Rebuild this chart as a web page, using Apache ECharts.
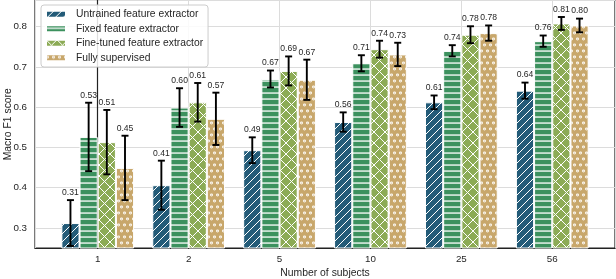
<!DOCTYPE html>
<html>
<head>
<meta charset="utf-8">
<script src="https://cdn.jsdelivr.net/npm/echarts@6/dist/echarts.min.js"></script>
<style>
html,body{margin:0;padding:0;background:#fff;overflow:hidden;width:100%;height:100%;}
#chart{position:absolute;left:0;top:0;width:616px;height:279px;}
</style>
</head>
<body>
<div id="chart"></div>
<script>
// ---- data ----
const categories = ['1', '2', '5', '10', '25', '56'];
const seriesNames = ['Untrained feature extractor', 'Fixed feature extractor', 'Fine-tuned feature extractor', 'Fully supervised'];
const untrainedMean = [0.312, 0.406, 0.493, 0.563, 0.612, 0.641];
const untrainedErr  = [0.057, 0.061, 0.032, 0.024, 0.017, 0.020];
const fixedMean     = [0.526, 0.599, 0.670, 0.709, 0.740, 0.764];
const fixedErr      = [0.085, 0.048, 0.021, 0.020, 0.014, 0.014];
const finetunedMean = [0.513, 0.612, 0.690, 0.744, 0.780, 0.808];
const finetunedErr  = [0.080, 0.048, 0.036, 0.021, 0.021, 0.016];
const supervisedMean= [0.449, 0.571, 0.668, 0.731, 0.784, 0.803];
const supervisedErr = [0.080, 0.065, 0.050, 0.029, 0.019, 0.017];
const yTicks = [0.3, 0.4, 0.5, 0.6, 0.7, 0.8];

const means = [untrainedMean, fixedMean, finetunedMean, supervisedMean];
const errs = [untrainedErr, fixedErr, finetunedErr, supervisedErr];
const colors = ['#235b78', '#3c915e', '#8cab55', '#c8a76b'];
const FONT = '"Liberation Sans", Arial, sans-serif';
const TXT = '#262626';

function makePattern(kind, color) {
  const c = document.createElement('canvas');
  let w, h;
  if (kind === 'diag') { w = 8; h = 8; }
  else if (kind === 'hline') { w = 6; h = 6; }
  else if (kind === 'cross') { w = 11; h = 11; }
  else { w = 6; h = 12; }
  c.width = w; c.height = h;
  const g = c.getContext('2d');
  g.fillStyle = color; g.fillRect(0, 0, w, h);
  g.strokeStyle = '#ffffff'; g.fillStyle = '#ffffff';
  g.lineWidth = 1;
  if (kind === 'diag') {
    g.beginPath();
    g.moveTo(-1, h + 1); g.lineTo(w + 1, -1);
    g.moveTo(-1, 1); g.lineTo(1, -1);
    g.moveTo(w - 1, h + 1); g.lineTo(w + 1, h - 1);
    g.stroke();
  } else if (kind === 'hline') {
    g.fillRect(0, 2.4, w, 1.3);
  } else if (kind === 'cross') {
    g.beginPath();
    g.moveTo(-1, -1); g.lineTo(w + 1, h + 1);
    g.moveTo(-1, h + 1); g.lineTo(w + 1, -1);
    g.stroke();
  } else {
    [[1.5, 3], [4.5, 9]].forEach(p => {
      g.beginPath(); g.arc(p[0], p[1], 1.45, 0, Math.PI * 2); g.fill();
    });
    g.fillStyle = color;
    [[1.5, 3], [4.5, 9]].forEach(p => {
      g.beginPath(); g.arc(p[0], p[1], 0.5, 0, Math.PI * 2); g.fill();
    });
  }
  return { image: c, repeat: 'repeat' };
}
const kinds = ['diag', 'hline', 'cross', 'dots'];

const chart = echarts.init(document.getElementById('chart'), null, { renderer: 'canvas', width: 616, height: 279 });

const barSeries = seriesNames.map((name, k) => ({
  name: name,
  type: 'bar',
  barWidth: '20%',
  barGap: '0%',
  itemStyle: { color: makePattern(kinds[k], colors[k]), borderColor: '#ffffff', borderWidth: 1 },
  emphasis: { disabled: true },
  data: means[k].map((v, i) => [i, v]),
  z: 2
}));

const errData = [];
means.forEach((arr, k) => arr.forEach((v, i) => errData.push([i, v, errs[k][i], k])));

const errSeries = {
  type: 'custom',
  z: 5,
  silent: true,
  data: errData,
  encode: { x: 0, y: 1 },
  renderItem: function (params, api) {
    const x = api.value(0), m = api.value(1), e = api.value(2), k = api.value(3);
    const unit = api.size([1, 0])[0];
    const bw = unit * 0.2;
    const cx = api.coord([x, m])[0] + (k - 1.5) * bw;
    const yt = api.coord([x, m + e])[1];
    const yb = api.coord([x, m - e])[1];
    const cap = 3.5;
    const st = { stroke: '#000', lineWidth: 1.9 };
    return {
      type: 'group',
      children: [
        { type: 'line', shape: { x1: cx, y1: yt, x2: cx, y2: yb }, style: st },
        { type: 'line', shape: { x1: cx - cap, y1: yt, x2: cx + cap, y2: yt }, style: st },
        { type: 'line', shape: { x1: cx - cap, y1: yb, x2: cx + cap, y2: yb }, style: st },
        { type: 'text', style: { x: cx, y: yt - 3, text: m.toFixed(2), fill: TXT, font: '8.6px ' + FONT, align: 'center', verticalAlign: 'bottom' } }
      ]
    };
  }
};

const option = {
  animation: false,
  textStyle: { fontFamily: FONT },
  grid: { left: 35, right: 1, top: 0.5, bottom: 31, show: true, borderColor: '#222', borderWidth: 1.2, containLabel: false, outerBoundsMode: 'none' },
  legend: {
    show: true,
    data: seriesNames,
    orient: 'vertical',
    left: 41, top: 5,
    padding: [2, 5, 2, 4],
    itemWidth: 20, itemHeight: 7,
    itemGap: 0,
    icon: 'rect',
    backgroundColor: 'rgba(255,255,255,0.85)',
    borderColor: '#cccccc', borderWidth: 1, borderRadius: 3,
    textStyle: { fontSize: 10.3, color: TXT, fontFamily: FONT, lineHeight: 14.5, padding: [0, 0, 0, 5] },
    selectedMode: false
  },
  xAxis: {
    type: 'value',
    min: -0.69, max: 5.69,
    splitNumber: 6,
    name: 'Number of subjects',
    nameLocation: 'middle',
    nameGap: 20.5,
    nameMoveOverlap: false,
    nameTextStyle: { fontSize: 10.4, color: TXT, fontFamily: FONT },
    axisLine: { show: true, lineStyle: { color: '#222', width: 1.2 } },
    axisTick: { show: false },
    axisLabel: {
      margin: 6, fontSize: 9.8, color: TXT, fontFamily: FONT,
      formatter: function (v) { const i = Math.round(v); return Math.abs(v - i) < 1e-6 && i >= 0 && i < categories.length ? categories[i] : ''; }
    },
    splitLine: { show: true, lineStyle: { color: '#dcdcdc', width: 1 } }
  },
  yAxis: {
    type: 'value',
    min: 0.25, max: 0.865,
    splitNumber: 6,
    name: 'Macro F1 score',
    nameLocation: 'middle',
    nameGap: 21.5,
    nameMoveOverlap: false,
    nameTextStyle: { fontSize: 10.4, color: TXT, fontFamily: FONT },
    axisLine: { show: true, lineStyle: { color: '#222', width: 1.2 } },
    axisTick: { show: false },
    axisLabel: {
      margin: 8, fontSize: 9.8, color: TXT, fontFamily: FONT,
      formatter: function (v) { for (const t of yTicks) { if (Math.abs(v - t) < 1e-6) return t.toFixed(1); } return ''; }
    },
    splitLine: { show: true, lineStyle: { color: '#dcdcdc', width: 1 } }
  },
  series: barSeries.concat([errSeries])
};
chart.setOption(option);
</script>
</body>
</html>
